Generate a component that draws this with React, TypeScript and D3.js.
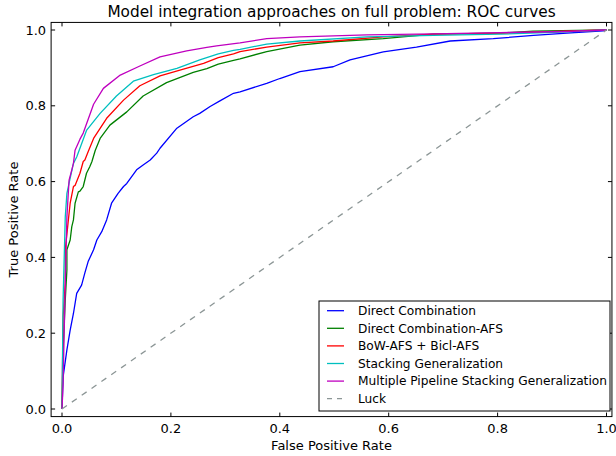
import { useEffect, useRef } from 'react';
import * as d3 from 'd3';

type Pt = [number, number];

// [false positive rate, true positive rate]
const directCombination: Pt[] = [
  [0, 0], [0.002, 0.085], [0.009, 0.156], [0.015, 0.208], [0.021, 0.252], [0.027, 0.305],
  [0.036, 0.327], [0.042, 0.359], [0.048, 0.389], [0.058, 0.42], [0.064, 0.446], [0.073, 0.468],
  [0.082, 0.499], [0.091, 0.543], [0.103, 0.569], [0.113, 0.587], [0.119, 0.595], [0.137, 0.631],
  [0.149, 0.644], [0.162, 0.657], [0.174, 0.675], [0.18, 0.688], [0.211, 0.741], [0.241, 0.771],
  [0.253, 0.78], [0.272, 0.798], [0.29, 0.813], [0.315, 0.833], [0.327, 0.837], [0.376, 0.859],
  [0.4, 0.872], [0.437, 0.89], [0.498, 0.903], [0.529, 0.921], [0.59, 0.942], [0.651, 0.955],
  [0.713, 0.971], [0.792, 0.977], [0.866, 0.986], [0.927, 0.992], [0.994, 0.998], [1, 1],
];

const directCombinationAfs: Pt[] = [
  [0, 0], [0.002, 0.156], [0.006, 0.288], [0.009, 0.367], [0.009, 0.42], [0.015, 0.446],
  [0.018, 0.481], [0.021, 0.499], [0.024, 0.543], [0.03, 0.573], [0.033, 0.575], [0.039, 0.587],
  [0.045, 0.622], [0.051, 0.639], [0.055, 0.653], [0.061, 0.682], [0.07, 0.714], [0.088, 0.749],
  [0.119, 0.784], [0.149, 0.826], [0.192, 0.861], [0.241, 0.888], [0.266, 0.898], [0.287, 0.91],
  [0.315, 0.92], [0.327, 0.924], [0.376, 0.943], [0.437, 0.96], [0.498, 0.969], [0.59, 0.977],
  [0.682, 0.989], [0.805, 0.992], [0.865, 0.997], [1, 1],
];

const bowBicl: Pt[] = [
  [0, 0], [0.002, 0.243], [0.006, 0.332], [0.006, 0.42], [0.012, 0.503], [0.015, 0.543],
  [0.021, 0.587], [0.024, 0.59], [0.033, 0.622], [0.039, 0.653], [0.042, 0.657], [0.048, 0.679],
  [0.058, 0.714], [0.082, 0.767], [0.113, 0.815], [0.143, 0.853], [0.18, 0.879], [0.223, 0.897],
  [0.26, 0.912], [0.287, 0.927], [0.315, 0.937], [0.327, 0.943], [0.376, 0.955], [0.437, 0.966],
  [0.498, 0.971], [0.59, 0.982], [0.682, 0.989], [0.805, 0.992], [1, 1],
];

const stacking: Pt[] = [
  [0, 0], [0.002, 0.288], [0.006, 0.507], [0.009, 0.569], [0.015, 0.609], [0.021, 0.648],
  [0.027, 0.665], [0.045, 0.735], [0.07, 0.78], [0.1, 0.826], [0.131, 0.865], [0.168, 0.882],
  [0.211, 0.899], [0.253, 0.921], [0.287, 0.937], [0.315, 0.946], [0.327, 0.949], [0.376, 0.963],
  [0.437, 0.971], [0.56, 0.982], [0.682, 0.986], [0.805, 0.989], [0.927, 0.995], [1, 1],
];

const multiPipeline: Pt[] = [
  [0, 0], [0.001, 0.032], [0.002, 0.068], [0.006, 0.332], [0.009, 0.507], [0.013, 0.604],
  [0.018, 0.631], [0.021, 0.648], [0.024, 0.683], [0.033, 0.712], [0.039, 0.728], [0.058, 0.804],
  [0.076, 0.846], [0.107, 0.881], [0.143, 0.905], [0.18, 0.929], [0.229, 0.945], [0.266, 0.954],
  [0.284, 0.958], [0.327, 0.966], [0.376, 0.977], [0.437, 0.982], [0.56, 0.987], [0.682, 0.99],
  [0.805, 0.993], [0.927, 0.996], [1, 1],
];

const luck: Pt[] = [[0, 0], [1, 1]];

const seriesNames = [
  'Direct Combination',
  'Direct Combination-AFS',
  'BoW-AFS + Bicl-AFS',
  'Stacking Generalization',
  'Multiple Pipeline Stacking Generalization',
  'Luck',
];
const seriesData = [directCombination, directCombinationAfs, bowBicl, stacking, multiPipeline, luck];
const seriesColors = ['#0000ff', '#008000', '#ff0000', '#00bfbf', '#bf00bf', '#8c9696'];

const ticks = [0, 0.2, 0.4, 0.6, 0.8, 1.0];

const App = () => {
  const svgRef = useRef<SVGSVGElement>(null);

  useEffect(() => {
    const width = 616;
    const height = 456;
    const font = 'DejaVu Sans, sans-serif';

    const svg = d3.select(svgRef.current);
    svg.selectAll('*').remove();
    svg.attr('width', width).attr('height', height);

    // x: 0 -> 62px, 1 -> 606.5px ; y: 0 -> 409px, 1 -> 30px
    const x = d3.scaleLinear().domain([0, 1]).range([62, 606.5]);
    const y = d3.scaleLinear().domain([0, 1]).range([409, 30]);

    const left = x(-0.02);
    const right = x(1.01);
    const top = y(1.02);
    const bottom = y(-0.02);

    svg.append('rect')
      .attr('width', width).attr('height', height).attr('fill', '#fff');

    // clip curves to the axes
    svg.append('defs').append('clipPath').attr('id', 'plot')
      .append('rect')
      .attr('x', left).attr('y', top)
      .attr('width', right - left).attr('height', bottom - top);

    const line = d3.line<Pt>().x(d => x(d[0])).y(d => y(d[1]));

    const curves = svg.append('g').attr('clip-path', 'url(#plot)');
    seriesData.forEach((d, i) => {
      curves.append('path')
        .datum(d)
        .attr('d', line)
        .attr('fill', 'none')
        .attr('stroke', seriesColors[i])
        .attr('stroke-width', 1.3)
        .attr('stroke-dasharray', i === 5 ? '6,6' : null)
        .attr('stroke-linejoin', 'round');
    });

    // frame
    svg.append('rect')
      .attr('x', left).attr('y', top)
      .attr('width', right - left).attr('height', bottom - top)
      .attr('fill', 'none').attr('stroke', '#000').attr('stroke-width', 1);

    // inward ticks on all four sides
    const tickLen = 4;
    const tg = svg.append('g').attr('stroke', '#000').attr('stroke-width', 1);
    ticks.forEach(t => {
      tg.append('line').attr('x1', x(t)).attr('x2', x(t)).attr('y1', bottom).attr('y2', bottom - tickLen);
      tg.append('line').attr('x1', x(t)).attr('x2', x(t)).attr('y1', top).attr('y2', top + tickLen);
      tg.append('line').attr('y1', y(t)).attr('y2', y(t)).attr('x1', left).attr('x2', left + tickLen);
      tg.append('line').attr('y1', y(t)).attr('y2', y(t)).attr('x1', right).attr('x2', right - tickLen);
    });

    svg.append('g').selectAll('text')
      .data(ticks).enter().append('text')
      .attr('x', d => x(d)).attr('y', bottom + 16)
      .attr('text-anchor', 'middle')
      .attr('font-family', font).attr('font-size', 13)
      .text(d => d.toFixed(1));

    svg.append('g').selectAll('text')
      .data(ticks).enter().append('text')
      .attr('x', left - 5).attr('y', d => y(d)).attr('dy', '0.35em')
      .attr('text-anchor', 'end')
      .attr('font-family', font).attr('font-size', 13)
      .text(d => d.toFixed(1));

    // title and axis labels
    svg.append('text')
      .attr('x', (left + right) / 2).attr('y', 17)
      .attr('text-anchor', 'middle')
      .attr('font-family', font).attr('font-size', 15.3)
      .text('Model integration approaches on full problem: ROC curves');

    svg.append('text')
      .attr('x', (left + right) / 2).attr('y', 450)
      .attr('text-anchor', 'middle')
      .attr('font-family', font).attr('font-size', 13)
      .text('False Positive Rate');

    svg.append('text')
      .attr('transform', `translate(18,${(top + bottom) / 2}) rotate(-90)`)
      .attr('text-anchor', 'middle')
      .attr('font-family', font).attr('font-size', 13)
      .text('True Positive Rate');

    // legend
    const lg = svg.append('g');
    lg.append('rect')
      .attr('x', 319).attr('y', 301).attr('width', 291).attr('height', 110)
      .attr('fill', '#fff').attr('stroke', '#000').attr('stroke-width', 1);
    seriesNames.forEach((name, i) => {
      const cy = 310.7 + i * 17.6;
      lg.append('line')
        .attr('x1', 327).attr('x2', 344).attr('y1', cy).attr('y2', cy)
        .attr('stroke', seriesColors[i]).attr('stroke-width', 1.3)
        .attr('stroke-dasharray', i === 5 ? '5,5' : null);
      lg.append('text')
        .attr('x', 358).attr('y', cy).attr('dy', '0.35em')
        .attr('font-family', font).attr('font-size', 12.2)
        .text(name);
    });
  }, []);

  return <svg ref={svgRef} style={{ position: 'absolute', left: 0, top: 0 }} />;
};

export default App;
